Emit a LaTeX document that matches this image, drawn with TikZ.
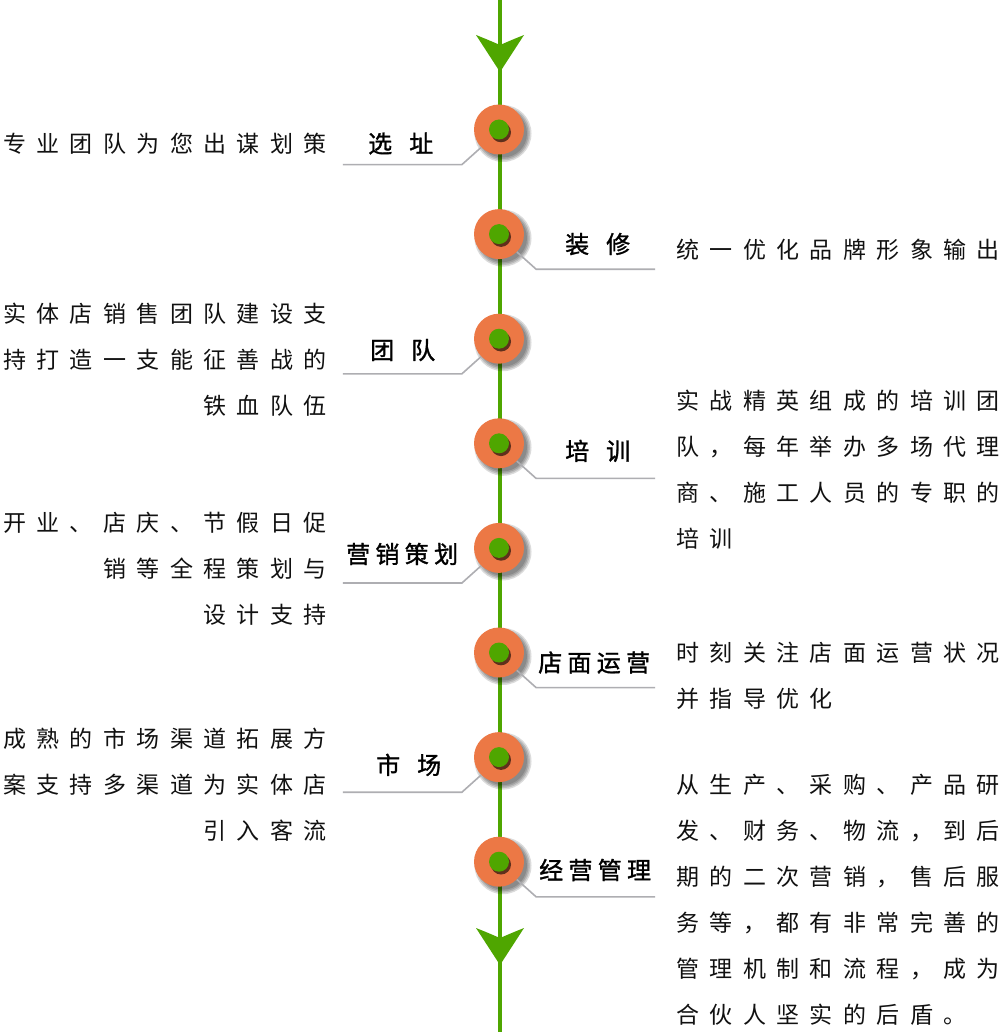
\documentclass[tikz,border=0pt]{standalone}
\usepackage{fontspec}
\newfontfamily\cjk{Noto Sans CJK SC}
\newfontfamily\cjkl[FakeBold=1.3]{Noto Sans CJK SC}
\newdimen\spgap
\def\spaced#1#2{\spgap=#1\relax\spcx#2\spcend}
\def\spcx#1#2\spcend{#1\ifx\relax#2\relax\else\kern\spgap\spcx#2\spcend\fi}
\definecolor{lgreen}{HTML}{4FA600}
\definecolor{dorange}{HTML}{EC7845}
\definecolor{leadgray}{HTML}{AEAEB2}
\definecolor{txt}{HTML}{111111}
\tikzset{
  disc/.style={circle,inner sep=0pt,minimum size=50pt,fill=dorange},
  pip/.style={circle,inner sep=0pt,minimum size=20pt,fill=lgreen},
  leader/.style={draw=leadgray,line width=1.6pt},
  lab/.style={inner sep=0pt,text=black,font=\cjkl\fontsize{24pt}{24pt}\selectfont},
  desc/.style={inner sep=0pt,text=txt,font=\cjk\fontsize{23pt}{23pt}\selectfont},
  dl/.style={desc,anchor=base east},
  dr/.style={desc,anchor=base west},
}
\begin{document}
\begin{tikzpicture}[x=1pt,y=-1pt]
\useasboundingbox (0,0) rectangle (1000,1032);
\fill[white] (0,0) rectangle (1000,1032);
% main axis
\coordinate (top) at (500,0);
\coordinate (bot) at (500,1032);
\draw[lgreen,line width=4.5pt] (top) -- (bot);
\coordinate (a1) at (500,72);
\coordinate (a2) at (500,965);
\fill[lgreen] (a1) -- ++(-24,-37) .. controls ++(10,4) .. ++(24,10) .. controls ++(14,-6) .. ++(24,-10) -- cycle;
\fill[lgreen] (a2) -- ++(-24,-37) .. controls ++(10,4) .. ++(24,10) .. controls ++(14,-6) .. ++(24,-10) -- cycle;
% stations
\foreach \i/\y in {1/129.5,2/234.1,3/338.7,4/443.3,5/547.9,6/652.5,7/757.1,8/861.7}{
  \coordinate (c\i) at (499,\y);
  \foreach \r in {24,25.5,27,28.5}
    \fill[black,opacity=.14] ([shift={(4,4)}]c\i) circle (\r pt);
  \node[disc] (n\i) at (c\i) {};
  \fill[black!70!dorange,opacity=.85] ([shift={(2,2.8)}]c\i) circle (10pt);
  \node[pip] (d\i) at (c\i) {};
}
% leaders
\foreach \i in {1,3,5,7}
  \draw[leader] (n\i.225) -- ++(-19.3,17.3) -- ++(-119,0);
\foreach \i in {2,4,6,8}
  \draw[leader] (n\i.-45) -- ++(19.3,17.3) -- ++(119,0);
% labels
\node[lab,anchor=base west] (l1) at (368,152.6) {\spaced{17pt}{选址}};
\node[lab,anchor=base west] (l2) at (565,253.1) {\spaced{17pt}{装修}};
\node[lab,anchor=base west] (l3) at (370,359.1) {\spaced{17pt}{团队}};
\node[lab,anchor=base west] (l4) at (565,460.1) {\spaced{17pt}{培训}};
\node[lab,anchor=base west] (l5) at (346,563.1) {\spaced{5.3pt}{营销策划}};
\node[lab,anchor=base west] (l6) at (538,671.6) {\spaced{5.3pt}{店面运营}};
\node[lab,anchor=base west] (l7) at (376,774.1) {\spaced{17pt}{市场}};
\node[lab,anchor=base west] (l8) at (539,879.1) {\spaced{5.3pt}{经营管理}};
% left descriptions
\node[dl] (t1) at (327,152.7) {\spaced{10.4pt}{专业团队为您出谋划策}};
\node[dl] (t3a) at (327,322.7) {\spaced{10.4pt}{实体店销售团队建设支}};
\node[dl] (t3b) at (327,368.7) {\spaced{10.4pt}{持打造一支能征善战的}};
\node[dl] (t3c) at (327,414.7) {\spaced{10.4pt}{铁血队伍}};
\node[dl] (t5a) at (327,531.7) {\spaced{10.4pt}{开业、店庆、节假日促}};
\node[dl] (t5b) at (327,577.7) {\spaced{10.4pt}{销等全程策划与}};
\node[dl] (t5c) at (327,623.7) {\spaced{10.4pt}{设计支持}};
\node[dl] (t7a) at (327,747.7) {\spaced{10.4pt}{成熟的市场渠道拓展方}};
\node[dl] (t7b) at (327,793.7) {\spaced{10.4pt}{案支持多渠道为实体店}};
\node[dl] (t7c) at (327,839.7) {\spaced{10.4pt}{引入客流}};
% right descriptions
\node[dr] (t2) at (676,258.7) {\spaced{10.4pt}{统一优化品牌形象输出}};
\node[dr] (t4a) at (676,409.7) {\spaced{10.4pt}{实战精英组成的培训团}};
\node[dr] (t4b) at (676,455.7) {\spaced{10.4pt}{队，每年举办多场代理}};
\node[dr] (t4c) at (676,501.7) {\spaced{10.4pt}{商、施工人员的专职的}};
\node[dr] (t4d) at (676,547.7) {\spaced{10.4pt}{培训}};
\node[dr] (t6a) at (676,661.7) {\spaced{10.4pt}{时刻关注店面运营状况}};
\node[dr] (t6b) at (676,707.7) {\spaced{10.4pt}{并指导优化}};
\node[dr] (t8a) at (676,793.7) {\spaced{10.4pt}{从生产、采购、产品研}};
\node[dr] (t8b) at (676,839.7) {\spaced{10.4pt}{发、财务、物流，到后}};
\node[dr] (t8c) at (676,885.7) {\spaced{10.4pt}{期的二次营销，售后服}};
\node[dr] (t8d) at (676,931.7) {\spaced{10.4pt}{务等，都有非常完善的}};
\node[dr] (t8e) at (676,977.7) {\spaced{10.4pt}{管理机制和流程，成为}};
\node[dr] (t8f) at (676,1023.7) {\spaced{10.4pt}{合伙人坚实的后盾。}};
\end{tikzpicture}
\end{document}
